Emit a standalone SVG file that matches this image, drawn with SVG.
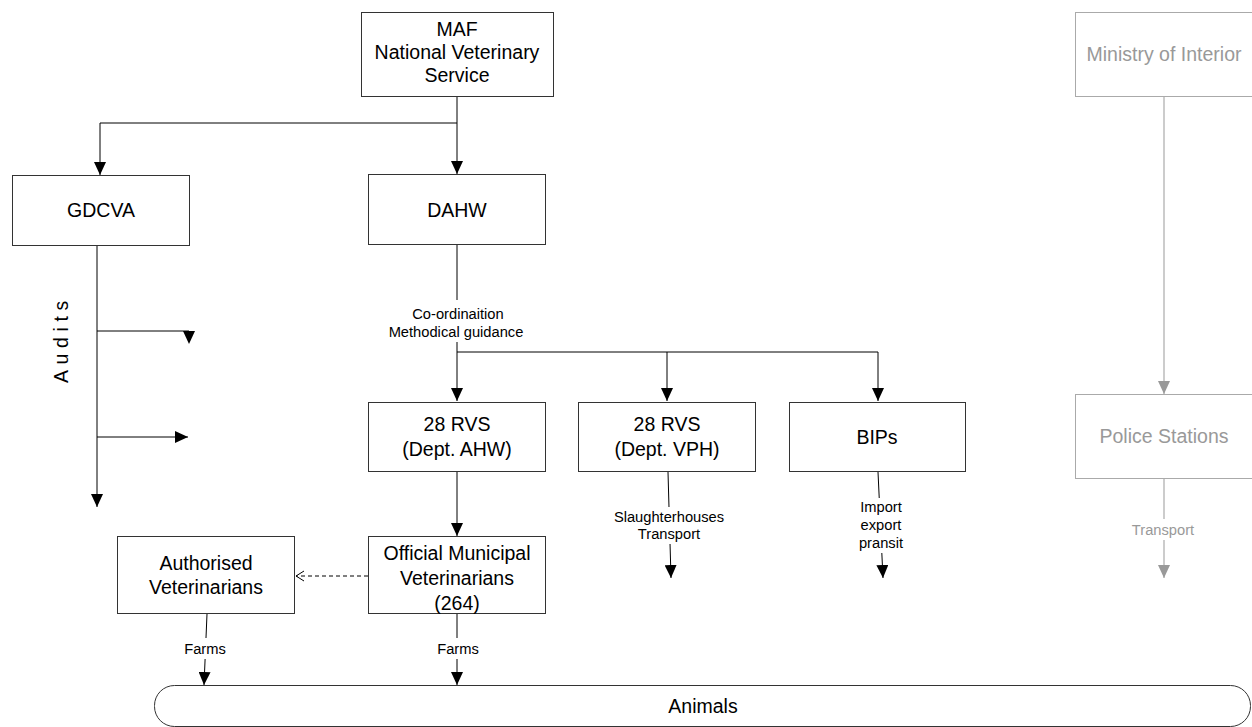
<svg xmlns="http://www.w3.org/2000/svg" width="1252" height="727" viewBox="0 0 1252 727">
  <style>
    text { font-family: "Liberation Sans", Arial, sans-serif; text-anchor: middle; fill: #000; }
    .box { fill: #fff; stroke: #333; stroke-width: 1; }
    .box-grey { fill: #fff; stroke: #aaa; stroke-width: 1; }
    .t { font-size: 19.5px; }
    .lbl { font-size: 14.7px; }
    .grey { fill: #999; }
    .ln { fill: none; stroke: #000; stroke-width: 1; }
    .ln-grey { fill: none; stroke: #999; stroke-width: 1; }
    .dash { fill: none; stroke: #000; stroke-width: 1; stroke-dasharray: 4 3; }
    .head { fill: #000; }
    .bg { fill: #fff; }
  </style>
  <defs>
    <marker id="arrow" markerUnits="userSpaceOnUse" markerWidth="13" markerHeight="12" viewBox="0 0 13 12" refX="13" refY="6" orient="auto">
      <path d="M0,0 L13,6 L0,12 z" fill="#000"/>
    </marker>
    <marker id="arrow-grey" markerUnits="userSpaceOnUse" markerWidth="13" markerHeight="12" viewBox="0 0 13 12" refX="13" refY="6" orient="auto">
      <path d="M0,0 L13,6 L0,12 z" fill="#999"/>
    </marker>
    <marker id="open-arrow" markerUnits="userSpaceOnUse" markerWidth="10" markerHeight="12" viewBox="0 0 10 12" refX="9" refY="6" orient="auto">
      <path d="M1,1 L9,6 L1,11" fill="none" stroke="#000" stroke-width="1"/>
    </marker>
  </defs>

  <!-- connectors -->
  <g id="connectors">
    <!-- MAF to GDCVA and DAHW -->
    <path class="ln" d="M457,97 V123 H100 V175" marker-end="url(#arrow)"/>
    <path class="ln" d="M457,123 V174" marker-end="url(#arrow)"/>

    <!-- GDCVA audits -->
    <path class="ln" d="M97,246 V507" marker-end="url(#arrow)"/>
    <path class="ln" d="M97,331 H189"/>
    <path class="head" d="M183,331 L195,331 L189,344 z"/>
    <path class="ln" d="M97,437 H188" marker-end="url(#arrow)"/>

    <!-- DAHW co-ordination -->
    <path class="ln" d="M457,245 V300"/>
    <path class="ln" d="M457,342 V401" marker-end="url(#arrow)"/>
    <path class="ln" d="M457,352 H878 V401" marker-end="url(#arrow)"/>
    <path class="ln" d="M667,352 V401" marker-end="url(#arrow)"/>

    <!-- 28 RVS (AHW) to Official Municipal Veterinarians -->
    <path class="ln" d="M457,472 V536" marker-end="url(#arrow)"/>

    <!-- delegation to authorised veterinarians -->
    <path class="dash" d="M368,576 H296" marker-end="url(#open-arrow)"/>

    <!-- VPH and BIPs outputs -->
    <path class="ln" d="M668,472 L671,578" marker-end="url(#arrow)"/>
    <path class="ln" d="M878,472 L883,578" marker-end="url(#arrow)"/>

    <!-- farms to animals -->
    <path class="ln" d="M207,614 L204,685" marker-end="url(#arrow)"/>
    <path class="ln" d="M457,614 V685" marker-end="url(#arrow)"/>

    <!-- interior ministry chain -->
    <path class="ln-grey" d="M1164,97 V394" marker-end="url(#arrow-grey)"/>
    <path class="ln-grey" d="M1164,479 V578" marker-end="url(#arrow-grey)"/>

    <!-- connector labels -->
    <rect class="bg" x="385" y="302" width="144" height="40"/>
    <text class="lbl" x="458" y="319">Co-ordinaition</text>
    <text class="lbl" x="456" y="337">Methodical guidance</text>

    <rect class="bg" x="610" y="507" width="120" height="37"/>
    <text class="lbl" x="669" y="522">Slaughterhouses</text>
    <text class="lbl" x="669" y="539">Transport</text>

    <rect class="bg" x="855" y="498" width="52" height="55"/>
    <text class="lbl" x="881" y="512">Import</text>
    <text class="lbl" x="881" y="530">export</text>
    <text class="lbl" x="881" y="548">pransit</text>

    <rect class="bg" x="182" y="638" width="46" height="21"/>
    <text class="lbl" x="205" y="654">Farms</text>
    <rect class="bg" x="434" y="638" width="46" height="21"/>
    <text class="lbl" x="458" y="654">Farms</text>

    <rect class="bg" x="1132" y="519" width="64" height="21"/>
    <text class="lbl grey" x="1163" y="535">Transport</text>

    <text class="t" transform="translate(68,383) rotate(-90)" x="0" y="0" style="text-anchor:start; letter-spacing:5.6px">Audits</text>
  </g>

  <g id="maf">
    <rect class="box" x="361.5" y="12.5" width="192" height="84"/>
    <text class="t" x="457" y="36">MAF</text>
    <text class="t" x="457" y="59">National Veterinary</text>
    <text class="t" x="457" y="82">Service</text>
  </g>

  <g id="gdcva">
    <rect class="box" x="12.5" y="175.5" width="177" height="70"/>
    <text class="t" x="101" y="217">GDCVA</text>
  </g>

  <g id="dahw">
    <rect class="box" x="368.5" y="174.5" width="177" height="70"/>
    <text class="t" x="457" y="217">DAHW</text>
  </g>

  <g id="rvs-ahw">
    <rect class="box" x="368.5" y="402.5" width="177" height="69"/>
    <text class="t" x="457" y="431">28 RVS</text>
    <text class="t" x="457" y="456">(Dept. AHW)</text>
  </g>

  <g id="rvs-vph">
    <rect class="box" x="578.5" y="402.5" width="177" height="69"/>
    <text class="t" x="667" y="431">28 RVS</text>
    <text class="t" x="667" y="456">(Dept. VPH)</text>
  </g>

  <g id="bips">
    <rect class="box" x="789.5" y="402.5" width="176" height="69"/>
    <text class="t" x="877" y="444">BIPs</text>
  </g>

  <g id="authorised-vets">
    <rect class="box" x="117.5" y="536.5" width="177" height="77"/>
    <text class="t" x="206" y="570">Authorised</text>
    <text class="t" x="206" y="594">Veterinarians</text>
  </g>

  <g id="municipal-vets">
    <rect class="box" x="368.5" y="536.5" width="177" height="77"/>
    <text class="t" x="457" y="560">Official Municipal</text>
    <text class="t" x="457" y="585">Veterinarians</text>
    <text class="t" x="457" y="610">(264)</text>
  </g>

  <g id="ministry-interior">
    <rect class="box-grey" x="1075.5" y="12.5" width="178" height="84"/>
    <text class="t grey" x="1164" y="61">Ministry of Interior</text>
  </g>

  <g id="police-stations">
    <rect class="box-grey" x="1075.5" y="394.5" width="178" height="84"/>
    <text class="t grey" x="1164" y="443">Police Stations</text>
  </g>

  <g id="animals">
    <rect class="box" x="154.5" y="685.5" width="1096" height="41" rx="20" ry="20"/>
    <text class="t" x="703" y="713">Animals</text>
  </g>
</svg>
